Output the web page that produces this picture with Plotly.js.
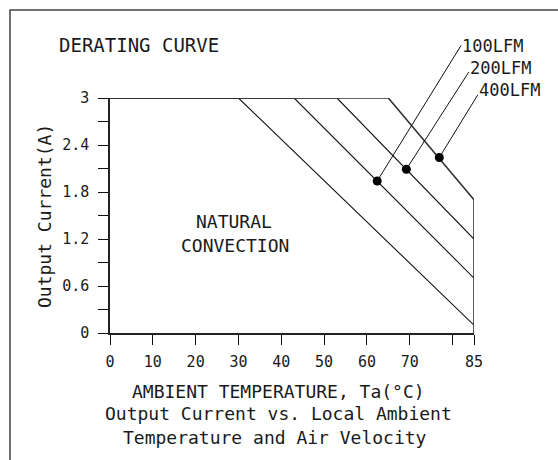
<!DOCTYPE html>
<html>
<head>
<meta charset="utf-8">
<script src="https://cdn.plot.ly/plotly-3.0.1.min.js"></script>
<style>html,body{margin:0;padding:0;background:#fff;}</style>
</head>
<body>
<div id="chart" style="width:558px;height:460px;"></div>
<script>
// ---- data ----
const seriesNames = ['NATURAL CONVECTION', '100LFM', '200LFM', '400LFM'];
const naturalX = [0, 30, 85];
const naturalY = [3, 3, 0.1];
const lfm100X = [0, 43, 85];
const lfm100Y = [3, 3, 0.7];
const lfm200X = [0, 53, 85];
const lfm200Y = [3, 3, 1.2];
const lfm400X = [0, 65, 85, 85];
const lfm400Y = [3, 3, 1.7, 0];
// marker points for the labelled curves
const dotLabels = ['100LFM', '200LFM', '400LFM'];
const dotX = [62.4, 69.2, 76.9];
const dotY = [1.94, 2.09, 2.24];
// axis ticks
const xTickVals = [0, 10, 20, 30, 40, 50, 60, 70, 80, 85];
const xTickText = ['0', '10', '20', '30', '40', '50', '60', '70', '', '85'];
const yTickVals = [0, 0.3, 0.6, 0.9, 1.2, 1.5, 1.8, 2.1, 2.4, 2.7, 3];
const yTickText = ['0', '', '0.6', '', '1.2', '', '1.8', '', '2.4', '', '3'];

// ---- layout helpers (positions only, in axis units) ----
const X_MAX = 85, Y_MAX = 3;
const labelPos = [[81.8, 3.66], [83.5, 3.38], [85.6, 3.10]];
const leaderEnd = [[82.2, 3.69], [84.0, 3.35], [86.1, 3.06]];

const FONT = 'DejaVu Sans Mono, monospace';
const INK = '#1a1a1a';

const lineStyle = {color: '#111', width: 1.1};
const traces = [
  {x: naturalX, y: naturalY, mode: 'lines', line: lineStyle, name: seriesNames[0], hoverinfo: 'skip'},
  {x: lfm100X, y: lfm100Y, mode: 'lines', line: lineStyle, name: seriesNames[1], hoverinfo: 'skip'},
  {x: lfm200X, y: lfm200Y, mode: 'lines', line: lineStyle, name: seriesNames[2], hoverinfo: 'skip'},
  {x: lfm400X, y: lfm400Y, mode: 'lines', line: {color: '#333', width: 1.6}, name: seriesNames[3], hoverinfo: 'skip'},
  {x: dotX, y: dotY, mode: 'markers', marker: {color: '#000', size: 9}, cliponaxis: false, hoverinfo: 'skip'}
];

const px = p => (p - 110) / 364;       // pixel -> paper x
const py = p => (333 - p) / 235;       // pixel -> paper y

const annotations = [
  {text: 'DERATING CURVE', xref: 'paper', yref: 'paper', x: px(57), y: py(45), xanchor: 'left', yanchor: 'middle', showarrow: false, font: {family: FONT, size: 19, color: INK}},
  {text: 'Output Current(A)', xref: 'paper', yref: 'paper', x: px(44), y: py(216), textangle: -90, xanchor: 'center', yanchor: 'middle', showarrow: false, font: {family: FONT, size: 18, color: INK}},
  {text: 'AMBIENT TEMPERATURE, Ta(°C)', xref: 'paper', yref: 'paper', x: px(278), y: py(391), xanchor: 'center', yanchor: 'middle', showarrow: false, font: {family: FONT, size: 18, color: INK}},
  {text: 'Output Current vs. Local Ambient', xref: 'paper', yref: 'paper', x: px(278), y: py(413), xanchor: 'center', yanchor: 'middle', showarrow: false, font: {family: FONT, size: 18, color: INK}},
  {text: 'Temperature and Air Velocity', xref: 'paper', yref: 'paper', x: px(275), y: py(437), xanchor: 'center', yanchor: 'middle', showarrow: false, font: {family: FONT, size: 18, color: INK}},
  {text: 'NATURAL', xref: 'x', yref: 'y', x: 29, y: 1.42, xanchor: 'center', yanchor: 'middle', showarrow: false, font: {family: FONT, size: 18, color: INK}},
  {text: 'CONVECTION', xref: 'x', yref: 'y', x: 29.1, y: 1.12, xanchor: 'center', yanchor: 'middle', showarrow: false, font: {family: FONT, size: 18, color: INK}}
];
dotLabels.forEach((lab, i) => {
  annotations.push({text: '', xref: 'x', yref: 'y', x: dotX[i], y: dotY[i], axref: 'x', ayref: 'y', ax: leaderEnd[i][0], ay: leaderEnd[i][1], showarrow: true, arrowhead: 0, arrowwidth: 1, arrowcolor: '#111', standoff: 0, startstandoff: 0});
  annotations.push({text: lab, xref: 'paper', yref: 'paper', x: labelPos[i][0] / X_MAX, y: labelPos[i][1] / Y_MAX, xanchor: 'left', yanchor: 'middle', showarrow: false, font: {family: FONT, size: 17, color: INK}});
});

const axisCommon = {showgrid: false, zeroline: false, showline: true, linecolor: '#222', linewidth: 1.6,
  ticks: 'outside', ticklen: 10, tickwidth: 1, tickcolor: '#111', tickmode: 'array', fixedrange: true,
  tickfont: {family: FONT, size: 15, color: INK}};

const layout = {
  width: 558, height: 460,
  margin: {l: 110, r: 84, t: 98, b: 127, pad: 0},
  paper_bgcolor: '#fff', plot_bgcolor: '#fff',
  showlegend: false,
  xaxis: Object.assign({}, axisCommon, {range: [0, X_MAX], tickvals: xTickVals, ticktext: xTickText, ticklabelstandoff: 4}),
  yaxis: Object.assign({}, axisCommon, {range: [0, Y_MAX], tickvals: yTickVals, ticktext: yTickText, ticklabelstandoff: 6}),
  annotations: annotations,
  shapes: [
    {type: 'rect', xref: 'paper', yref: 'paper', x0: px(10), y0: py(10), x1: 3, y1: -3, line: {color: '#444', width: 1.5}, fillcolor: 'rgba(0,0,0,0)', layer: 'below'}
  ]
};

Plotly.newPlot('chart', traces, layout, {displayModeBar: false, staticPlot: true});
</script>
</body>
</html>
